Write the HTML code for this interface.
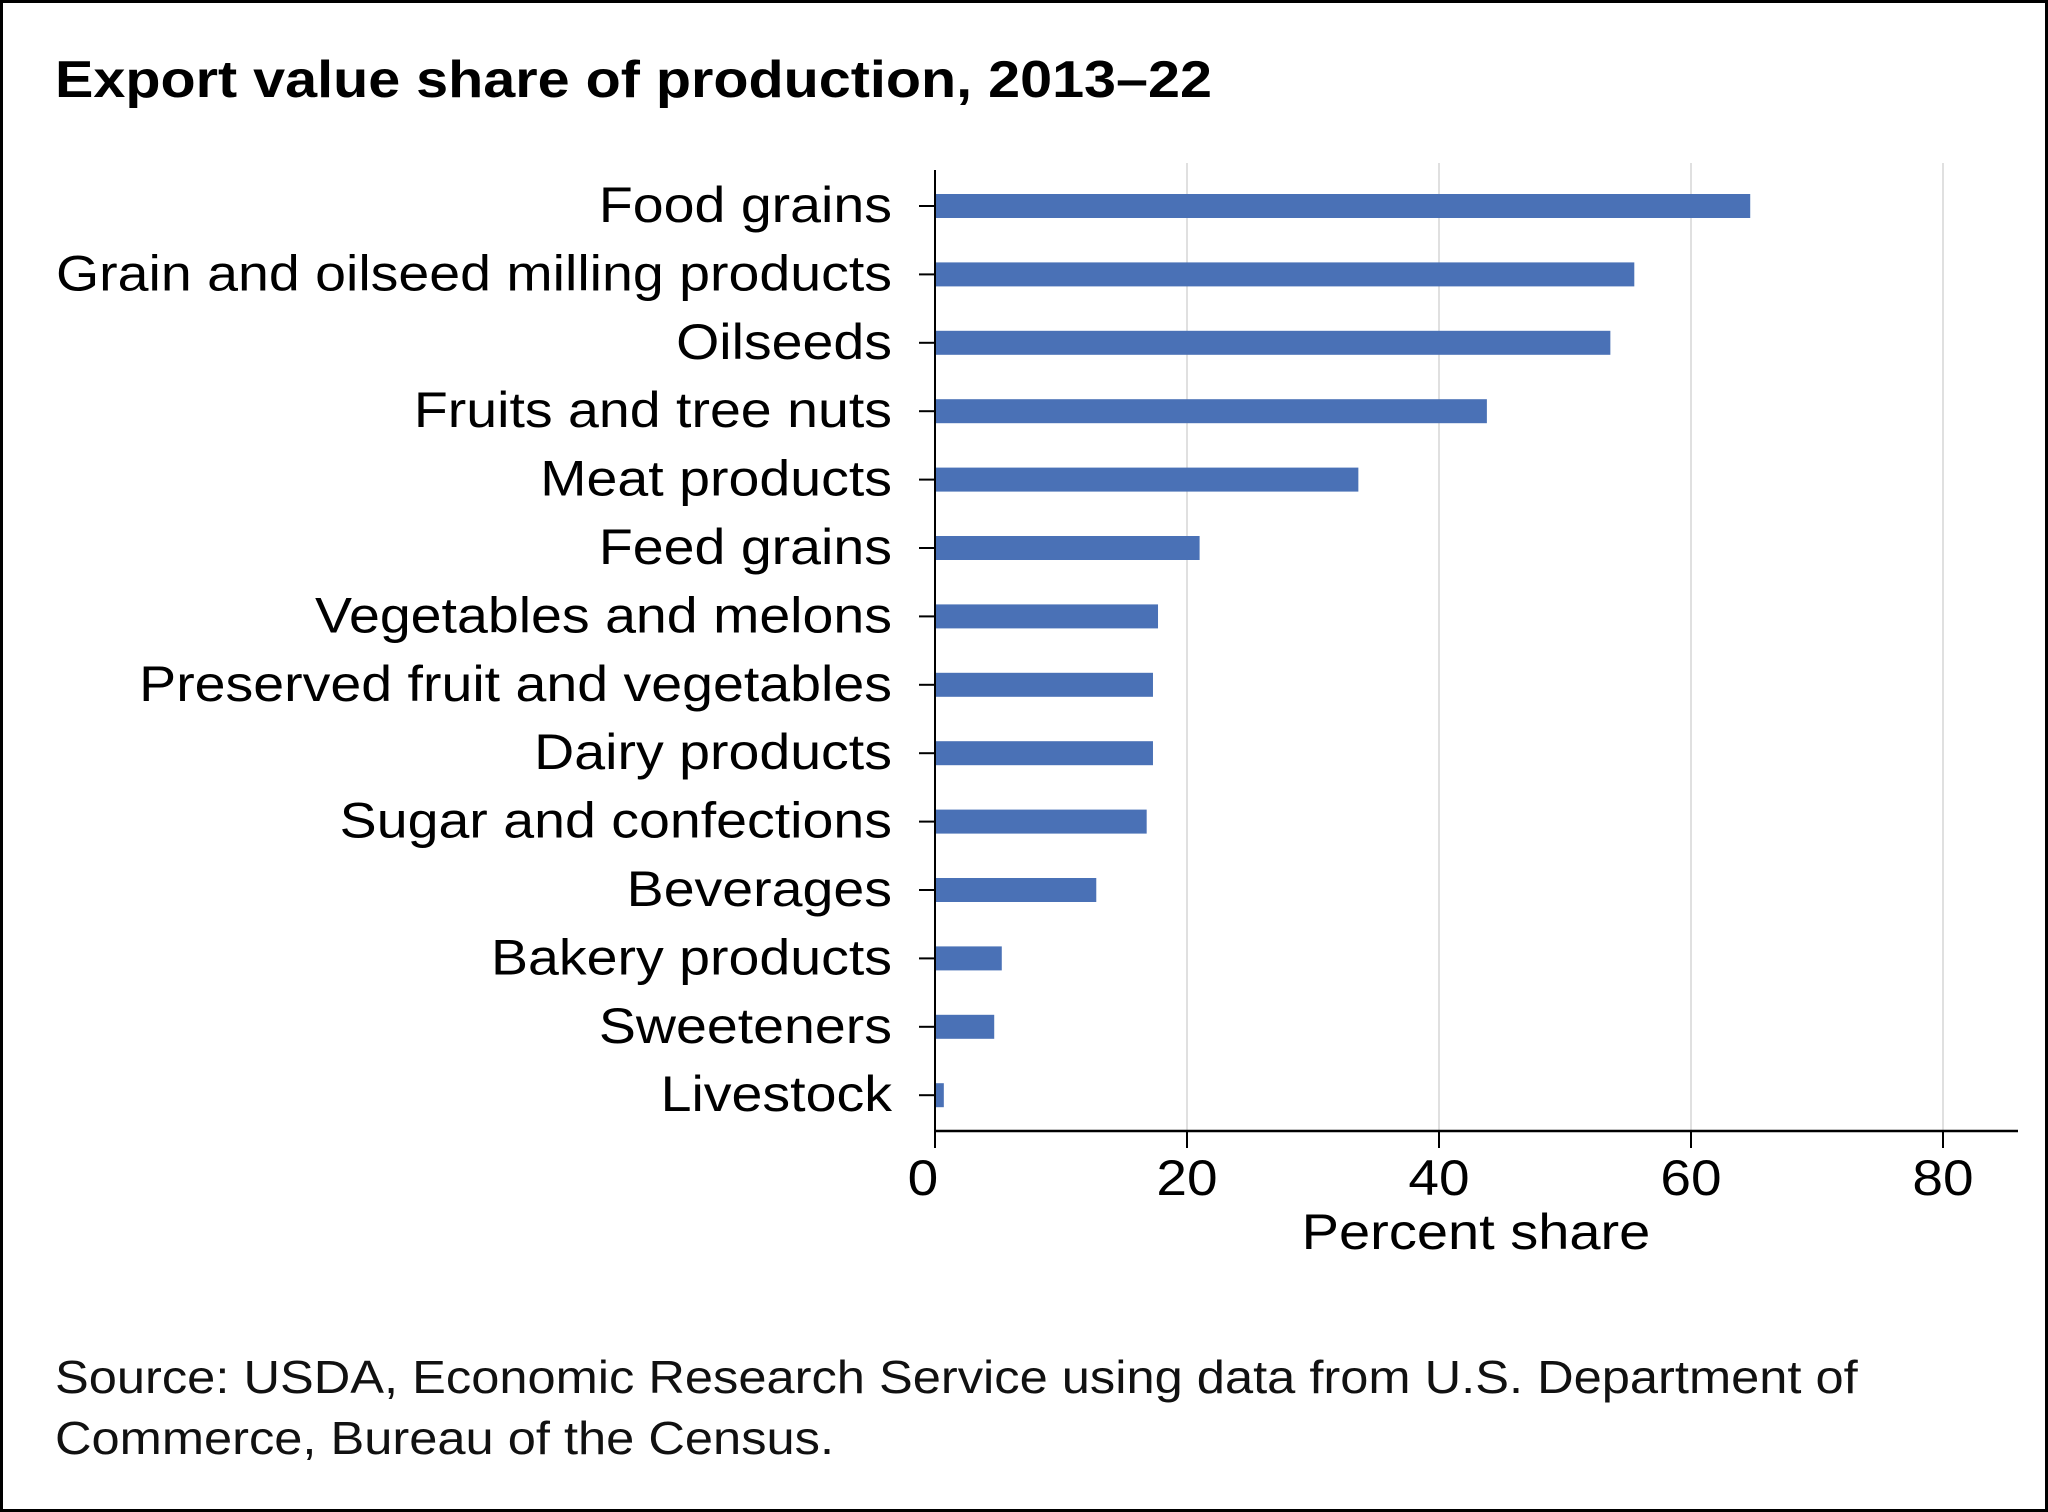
<!DOCTYPE html>
<html><head><meta charset="utf-8"><style>
html,body{margin:0;padding:0;background:#fff}
svg{display:block;font-family:"Liberation Sans",Arial,sans-serif}
</style></head><body>
<svg id="chart" width="2048" height="1512" viewBox="0 0 2048 1512">
<rect x="1.5" y="1.5" width="2045" height="1509" fill="#fff" stroke="#000" stroke-width="3"/>
<text x="55" y="97" font-size="52" font-weight="bold" textLength="1157" lengthAdjust="spacingAndGlyphs">Export value share of production, 2013–22</text>
<g id="grid"></g>
<g id="bars"></g>
<g id="yaxis"></g>
<g id="xaxis"></g>
<text class="st" data-s="1.12" x="1476" y="1249" font-size="50" text-anchor="middle">Percent share</text>
<text class="st" data-s="1.10" x="55" y="1393" font-size="46" fill="#111">Source: USDA, Economic Research Service using data from U.S. Department of</text>
<text class="st" data-s="1.10" x="55" y="1454" font-size="46" fill="#111">Commerce, Bureau of the Census.</text>
</svg>
<script>
const categories = ["Food grains","Grain and oilseed milling products","Oilseeds","Fruits and tree nuts","Meat products","Feed grains","Vegetables and melons","Preserved fruit and vegetables","Dairy products","Sugar and confections","Beverages","Bakery products","Sweeteners","Livestock"];
const values = [64.7,55.5,53.6,43.8,33.6,21.0,17.7,17.3,17.3,16.8,12.8,5.3,4.7,0.7];
const xTicks = [0,20,40,60,80];

const NS = "http://www.w3.org/2000/svg";
const x0 = 935, pxPerUnit = 12.6;
const xScale = v => x0 + v * pxPerUnit;
const yTop = 206, step = 68.4, barH = 24;
const yScale = i => yTop + i * step;
const axisY = 1131, axisTop = 170, axisRight = 2018;

function mk(tag, attrs, parent){
  const e = document.createElementNS(NS, tag);
  for (const k in attrs) e.setAttribute(k, attrs[k]);
  parent.appendChild(e);
  return e;
}
const grid = document.getElementById('grid');
const bars = document.getElementById('bars');
const yaxis = document.getElementById('yaxis');
const xaxis = document.getElementById('xaxis');

xTicks.forEach(t => {
  if (t > 0) {
    const g = mk('line', {x1:xScale(t), x2:xScale(t), y1:163, y2:axisY, stroke:'#d6d6d6', 'stroke-width':1.5}, grid);
    
    
  }
  const tk = mk('line', {x1:xScale(t), x2:xScale(t), y1:axisY, y2:axisY+17, stroke:'#000', 'stroke-width':2}, xaxis);
  
  
  const lb = mk('text', {x:xScale(t) - (t===0?12:0), y:1195, 'font-size':50, 'text-anchor':'middle', class:'st', 'data-s':'1.1'}, xaxis);
  lb.textContent = t;
  
  
});

categories.forEach((c, i) => {
  const cy = yScale(i);
  const r = mk('rect', {x:x0, y:cy - barH/2, width:values[i]*pxPerUnit, height:barH, fill:'#4a71b6'}, bars);
  
  
  const tk = mk('line', {x1:919, x2:x0, y1:cy, y2:cy, stroke:'#000', 'stroke-width':2}, yaxis);
  
  
  const lb = mk('text', {x:892, y:cy + 16, 'font-size':50, 'text-anchor':'end', class:'st', 'data-s':'1.11'}, yaxis);
  lb.textContent = c;
  
  
});

const ya = mk('line', {x1:x0, x2:x0, y1:axisTop, y2:axisY, stroke:'#000', 'stroke-width':2}, yaxis);


const xa = mk('line', {x1:x0, x2:axisRight, y1:axisY, y2:axisY, stroke:'#000', 'stroke-width':2.5}, xaxis);



document.querySelectorAll('text.st').forEach(t => {
  const s = parseFloat(t.getAttribute('data-s'));
  const w = t.getComputedTextLength();
  t.setAttribute('textLength', (w * s).toFixed(1));
  t.setAttribute('lengthAdjust', 'spacingAndGlyphs');
});
</script>
</body></html>
